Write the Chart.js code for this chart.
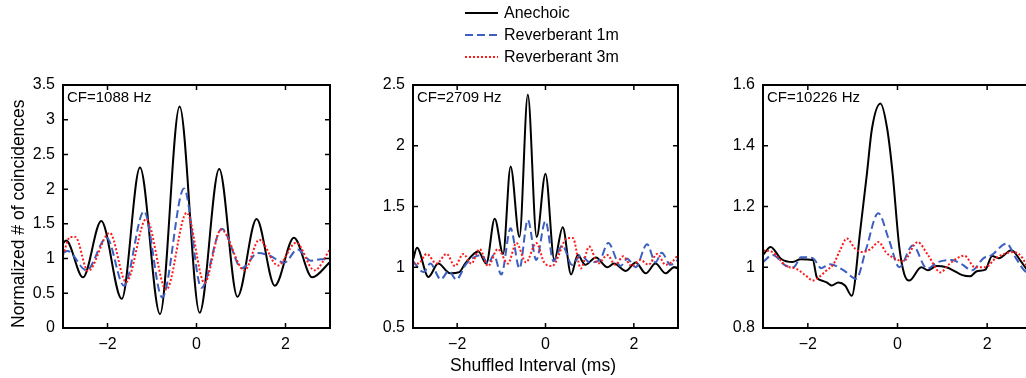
<!DOCTYPE html>
<html><head><meta charset="utf-8">
<script src="https://cdn.jsdelivr.net/npm/chart.js@4.4.1/dist/chart.umd.min.js"></script>
<style>
html,body{margin:0;padding:0;background:#fff;overflow:hidden;width:1026px;height:378px;position:relative;}
canvas{position:absolute;top:0;}
#legend{position:absolute;left:465px;top:1.5px;font:16px "Liberation Sans",Arial,sans-serif;color:#000;}
.row{height:22.3px;display:flex;align-items:center;white-space:nowrap;}
.row svg{width:33px;height:6px;margin-right:6px;}
#xtitle{position:absolute;left:533px;top:355px;transform:translateX(-50%);font:17.5px "Liberation Sans",Arial,sans-serif;line-height:20px;white-space:nowrap;color:#000;}
</style></head>
<body>
<canvas id="c1" width="340" height="378" style="left:0px"></canvas>
<canvas id="c2" width="350" height="378" style="left:340px"></canvas>
<canvas id="c3" width="347" height="378" style="left:690px"></canvas>
<div id="legend">
  <div class="row"><svg viewBox="0 0 33 6"><line x1="0" y1="3" x2="33" y2="3" stroke="#000" stroke-width="2"/></svg>Anechoic</div>
  <div class="row"><svg viewBox="0 0 33 6"><line x1="0" y1="3" x2="33" y2="3" stroke="#3c5fc0" stroke-width="2" stroke-dasharray="8 4"/></svg>Reverberant 1m</div>
  <div class="row"><svg viewBox="0 0 33 6"><line x1="0" y1="3" x2="33" y2="3" stroke="#ff1a1a" stroke-width="2" stroke-dasharray="2 2"/></svg>Reverberant 3m</div>
</div>
<div id="xtitle">Shuffled Interval (ms)</div>
<script>
// ---- data ----
const seriesNames = ["Anechoic", "Reverberant 1m", "Reverberant 3m"];
const panelLabels = ["CF=1088 Hz", "CF=2709 Hz", "CF=10226 Hz"];
const xTicks = [-2, 0, 2];
const p1YTicks = [0, 0.5, 1, 1.5, 2, 2.5, 3, 3.5];
const p2YTicks = [0.5, 1, 1.5, 2, 2.5];
const p3YTicks = [0.8, 1, 1.2, 1.4, 1.6];

// Panel 1 (CF=1088 Hz)
const p1AnX = [-3.0, -2.93, -2.55, -2.14, -1.68, -1.27, -0.82, -0.38, 0.07, 0.51, 0.92, 1.35, 1.76, 2.19, 2.60, 3.0];
const p1AnY = [1.22, 1.26, 0.73, 1.54, 0.42, 2.31, 0.20, 3.19, 0.22, 2.29, 0.45, 1.57, 0.61, 1.30, 0.73, 0.95];
const p1R1X = [-3.0, -2.9, -2.47, -2.02, -1.63, -1.18, -0.77, -0.28, 0.11, 0.57, 1.02, 1.38, 1.65, 1.97, 2.27, 2.57, 2.8, 3.0];
const p1R1Y = [1.08, 1.11, 0.83, 1.30, 0.61, 1.68, 0.44, 2.01, 0.58, 1.43, 0.86, 1.08, 1.04, 0.94, 1.13, 0.97, 0.99, 0.99];
const p1R3X = [-3.0, -2.84, -2.72, -2.44, -1.95, -1.58, -1.13, -0.68, -0.22, 0.18, 0.55, 1.08, 1.41, 1.83, 2.24, 2.65, 3.0];
const p1R3Y = [1.05, 1.31, 1.31, 0.82, 1.37, 0.66, 1.57, 0.55, 1.66, 0.65, 1.42, 0.83, 1.27, 0.90, 1.23, 0.83, 1.13];

// Panel 2 (CF=2709 Hz)
const p2AnX = [-3.0, -2.91, -2.65, -2.43, -2.16, -1.95, -1.82, -1.52, -1.34, -1.15, -0.96, -0.79, -0.59, -0.40, -0.20, 0.0, 0.20, 0.39, 0.58, 0.73, 0.90, 1.14, 1.40, 1.55, 1.82, 2.04, 2.27, 2.49, 2.72, 2.91, 3.0];
const p2AnY = [1.06, 1.16, 0.92, 1.03, 0.95, 0.96, 1.03, 1.13, 1.03, 1.40, 1.11, 1.83, 1.25, 2.42, 1.25, 1.77, 1.06, 1.33, 0.94, 1.10, 1.02, 1.08, 1.00, 1.03, 0.97, 1.04, 0.95, 1.03, 0.95, 1.00, 0.99];
const p2R1X = [-3.0, -2.76, -2.61, -2.37, -2.19, -2.02, -1.79, -1.45, -1.30, -1.17, -1.0, -0.79, -0.59, -0.40, -0.21, 0.0, 0.18, 0.38, 0.6, 0.8, 1.0, 1.23, 1.42, 1.70, 1.85, 2.04, 2.30, 2.49, 2.63, 2.83, 3.0];
const p2R1Y = [1.05, 0.96, 1.03, 0.90, 0.97, 0.90, 1.03, 1.10, 1.03, 1.10, 0.94, 1.32, 0.99, 1.39, 1.06, 1.38, 1.05, 1.18, 1.02, 1.10, 1.04, 1.06, 1.20, 1.01, 1.07, 1.00, 1.19, 1.04, 1.12, 1.02, 1.06];
const p2R3X = [-3.0, -2.88, -2.69, -2.47, -2.24, -2.05, -1.86, -1.68, -1.49, -1.30, -1.08, -0.85, -0.66, -0.44, -0.21, -0.03, 0.15, 0.50, 0.62, 0.80, 0.99, 1.19, 1.40, 1.58, 1.76, 1.95, 2.15, 2.33, 2.53, 2.72, 2.88, 3.0];
const p2R3Y = [1.03, 1.03, 1.11, 1.03, 1.11, 1.01, 1.11, 1.03, 1.15, 1.01, 1.15, 1.03, 1.20, 1.04, 1.20, 1.04, 1.01, 1.24, 1.24, 0.99, 1.17, 1.03, 1.10, 1.02, 1.09, 1.01, 1.06, 1.02, 1.11, 1.02, 1.05, 1.10];

// Panel 3 (CF=10226 Hz)
const p3AnX = [-3.0, -2.83, -2.60, -2.34, -2.16, -1.89, -1.80, -1.70, -1.58, -1.47, -1.32, -1.17, -1.02, -0.83, -0.68, -0.57, -0.38, -0.23, -0.11, 0.04, 0.15, 0.26, 0.53, 0.68, 0.87, 1.09, 1.24, 1.43, 1.62, 1.77, 1.96, 2.11, 2.26, 2.54, 2.75, 2.90, 3.0];
const p3AnY = [1.04, 1.067, 1.028, 1.017, 1.026, 1.024, 0.967, 0.957, 0.95, 0.94, 0.95, 0.94, 0.906, 1.122, 1.311, 1.456, 1.539, 1.456, 1.311, 1.066, 0.978, 0.956, 1.0, 0.99, 1.004, 1.0, 0.99, 0.975, 0.97, 0.987, 0.992, 1.037, 1.03, 1.056, 1.02, 0.99, 0.98];
const p3R1X = [-3.0, -2.79, -2.49, -2.32, -2.15, -1.89, -1.70, -1.51, -1.2, -0.92, -0.70, -0.43, -0.19, 0.04, 0.34, 0.66, 0.90, 1.21, 1.43, 1.66, 1.92, 2.10, 2.43, 2.64, 2.86, 3.0];
const p3R1Y = [1.017, 1.04, 1.005, 1.0, 1.033, 1.03, 0.997, 1.01, 0.99, 0.962, 1.06, 1.178, 1.09, 1.0, 1.072, 0.995, 1.017, 1.024, 1.01, 0.99, 1.03, 1.04, 1.078, 1.03, 0.985, 0.98];
const p3R3X = [-3.0, -2.79, -2.49, -2.26, -2.04, -1.89, -1.73, -1.58, -1.43, -1.28, -1.13, -0.94, -0.79, -0.6, -0.42, -0.26, -0.08, 0.13, 0.45, 0.68, 0.96, 1.15, 1.49, 1.73, 1.96, 2.19, 2.45, 2.6, 2.79, 2.93, 3.0];
const p3R3Y = [1.056, 1.05, 1.005, 0.995, 0.972, 0.956, 0.97, 0.99, 1.01, 1.056, 1.095, 1.06, 1.05, 1.06, 1.083, 1.05, 1.03, 1.02, 1.083, 1.04, 0.983, 1.01, 1.038, 1.0, 1.0, 1.03, 1.047, 1.05, 1.03, 0.99, 0.98];

// ---- drawing ----
const FONT = '"Liberation Sans", Arial, sans-serif';
const COLORS = ['#000000', '#3c5fc0', '#ff1a1a'];
const DASHES = [[], [8, 4], [2, 2]];

function fmt(v) { return String(+v.toFixed(2)).replace('-', '\u2212'); }
function pts(xs, ys) { return xs.map((x, i) => ({x: x, y: ys[i]})); }

const framePlugin = {
  id: 'frame',
  afterDatasetsDraw(chart, args, opts) {
    const {ctx, chartArea: a, scales} = chart;
    const x = scales.x, y = scales.y, L = 5;
    ctx.save();
    ctx.strokeStyle = '#000';
    ctx.lineWidth = 1.5;
    ctx.beginPath();
    x.ticks.forEach(t => { const p = x.getPixelForValue(t.value);
      ctx.moveTo(p, a.bottom); ctx.lineTo(p, a.bottom - L);
      ctx.moveTo(p, a.top); ctx.lineTo(p, a.top + L); });
    y.ticks.forEach(t => { const p = y.getPixelForValue(t.value);
      ctx.moveTo(a.left, p); ctx.lineTo(a.left + L, p);
      ctx.moveTo(a.right, p); ctx.lineTo(a.right - L, p); });
    ctx.stroke();
    ctx.lineWidth = 2;
    ctx.strokeRect(a.left, a.top, a.right - a.left, a.bottom - a.top);
    ctx.fillStyle = '#000';
    ctx.font = '15px ' + FONT;
    ctx.textBaseline = 'middle';
    ctx.textAlign = 'left';
    ctx.fillText(opts.label, a.left + 4, a.top + 13);
    ctx.restore();
  }
};

function makeChart(id, series, yTicks, yMin, yMax, yWidth, padRight, label, yTitle) {
  const datasets = series.map((s, i) => ({
    label: seriesNames[i],
    data: pts(s[0], s[1]),
    borderColor: COLORS[i],
    borderWidth: 2,
    borderDash: DASHES[i],
    pointRadius: 0,
    fill: false,
    cubicInterpolationMode: 'monotone',
    order: 3 - i
  }));
  return new Chart(document.getElementById(id), {
    type: 'line',
    data: {datasets},
    options: {
      responsive: false, animation: false, devicePixelRatio: 1,
      layout: {padding: {top: 85, right: padRight, bottom: 0, left: 0}},
      plugins: {legend: {display: false}, tooltip: {enabled: false}, frame: {label: label}},
      scales: {
        x: {
          type: 'linear', min: -3, max: 3,
          grid: {display: false, drawTicks: false}, border: {display: false},
          afterBuildTicks: s => { s.ticks = xTicks.map(v => ({value: v})); },
          afterFit: s => { s.height = 50; },
          ticks: {color: '#000', font: {family: FONT, size: 16}, padding: 7, maxRotation: 0, callback: v => fmt(v)}
        },
        y: {
          type: 'linear', min: yMin, max: yMax,
          grid: {display: false, drawTicks: false}, border: {display: false},
          afterBuildTicks: s => { s.ticks = yTicks.map(v => ({value: v})); },
          afterFit: s => { s.width = yWidth; },
          ticks: {color: '#000', font: {family: FONT, size: 16}, padding: 8, callback: v => fmt(v)},
          title: yTitle ? {display: true, text: yTitle, align: 'start', color: '#000', font: {family: FONT, size: 17.5}, padding: {top: 9, bottom: 0}} : {display: false}
        }
      }
    },
    plugins: [framePlugin]
  });
}

makeChart('c1', [[p1AnX, p1AnY], [p1R1X, p1R1Y], [p1R3X, p1R3Y]], p1YTicks, 0, 3.5, 63, 10, panelLabels[0], 'Normalized # of coincidences');
makeChart('c2', [[p2AnX, p2AnY], [p2R1X, p2R1Y], [p2R3X, p2R3Y]], p2YTicks, 0.5, 2.5, 73, 12, panelLabels[1], null);
makeChart('c3', [[p3AnX, p3AnY], [p3R1X, p3R1Y], [p3R3X, p3R3Y]], p3YTicks, 0.8, 1.6, 73, 5, panelLabels[2], null);
</script>
</body></html>
